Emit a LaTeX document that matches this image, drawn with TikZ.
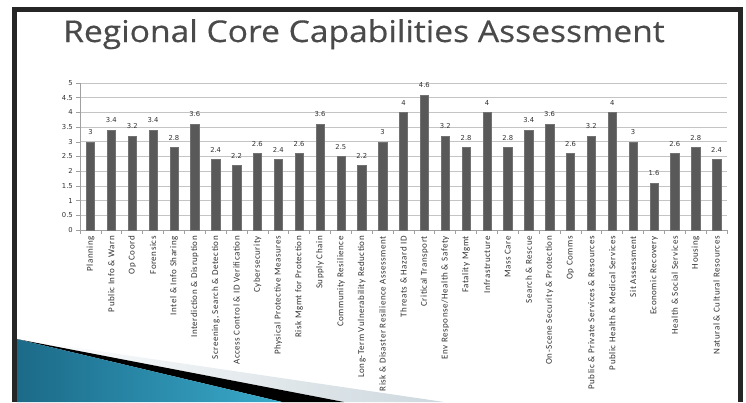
\documentclass[tikz,border=0pt]{standalone}
\usepackage{fontspec}
\setmainfont{Open Sans}
\newfontfamily\titlefont{Open Sans}[FakeStretch=1.12, FakeBold=0.4]
\newfontfamily\lblfont{Carlito}[LetterSpace=6]
\newfontfamily\numfont{DejaVu Sans}
\usetikzlibrary{positioning}
\definecolor{bargray}{HTML}{595959}
\definecolor{gridgray}{HTML}{C4C4C4}
\definecolor{axisgray}{HTML}{A0A0A0}
\definecolor{framegray}{HTML}{262626}
\definecolor{titlegray}{HTML}{4A4A4A}
\definecolor{tealdark}{HTML}{1B6A88}
\definecolor{teallight}{HTML}{3AAACB}
\definecolor{silver}{HTML}{CDD8DE}

\begin{document}
\begin{tikzpicture}[x=1pt, y=-1pt,
        bar/.style ={fill=bargray, draw=bargray!85!white, line width=0.4pt},
        gridline/.style ={gridgray, line width=0.8pt},
        axisline/.style ={axisgray, line width=0.6pt},
        value/.style ={font=\numfont\fontsize{6.8}{7}\selectfont, text=black!80, inner sep=0pt},
        category/.style ={font=\lblfont\fontsize{9}{10}\selectfont, text=black!80, rotate=90, anchor=east, inner sep=0pt},
        ticklabel/.style ={font=\numfont\fontsize{6.8}{7}\selectfont, text=black!80, anchor=east, inner sep=0pt}]

    \useasboundingbox (0,0) rectangle (746,402);
    \fill[white] (0,0) rectangle (746,402);

    %slide decoration in the corner
    \coordinate (wedge) at (16.5,339);
    \coordinate (w1) at (282,402);
    \coordinate (w2) at (344,402);
    \coordinate (w3) at (444,402);
    \coordinate (w0) at (16.5,402);
    \shade[left color=white, right color=silver] (wedge) -- (w3) -- (w2) -- cycle;
    \fill[black] (wedge) -- (w2) -- (w1) -- cycle;
    \shade[left color=tealdark, right color=teallight] (wedge) -- (w1) -- (w0) -- cycle;

    \draw[framegray, line width=5pt] (14,402) -- (14,9) -- (740,9) -- (740,402);

    \node[anchor=base west, font=\titlefont\fontsize{30}{34}\selectfont, text=titlegray, inner sep=0pt] (title) at (63,42) {Regional Core Capabilities Assessment};

    \begin{scope}[shift={(80,230)}, x=20.87pt, y=29.4pt]
        \foreach \t in {0,0.5,1,1.5,2,2.5,3,3.5,4,4.5,5} {
            \draw[gridline] (0,\t) -- (31,\t);
            \draw[axisline] (-4pt,\t) -- (0,\t);
            \node[ticklabel] (t\t) at ([xshift=-7pt]0,\t) {\t};
        }
        \draw[axisline] (0,0) -- (0,5);
        \draw[axisline] (0,0) -- (31,0);
        \foreach \k in {0,...,31}
            \draw[axisline] (\k,0) -- ([yshift=-4pt]\k,0);

        \foreach \v/\name [count=\i] in {3/Planning, 3.4/Public Info \& Warn, 3.2/Op Coord, 3.4/Forensics,
                2.8/Intel \& Info Sharing, 3.6/Interdiction \& Disruption, 2.4/{Screening, Search \& Detection},
                2.2/Access Control \& ID Verification, 2.6/Cybersecurity, 2.4/Physical Protective Measures,
                2.6/Risk Mgmt for Protection, 3.6/Supply Chain, 2.5/Community Resilience,
                2.2/Long-Term Vulnerability Reduction, 3/Risk \& Disaster Resilience Assessment,
                4/Threats \& Hazard ID, 4.6/Critical Transport, 3.2/{Env Response/Health \& Safety},
                2.8/Fatality Mgmt, 4/Infrastructure, 2.8/Mass Care, 3.4/Search \& Rescue,
                3.6/On-Scene Security \& Protection, 2.6/Op Comms, 3.2/Public \& Private Services \& Resources,
                4/Public Health \& Medical Services, 3/Sit Assessment, 1.6/Economic Recovery,
                2.6/Health \& Social Services, 2.8/Housing, 2.4/Natural \& Cultural Resources} {
            \filldraw[bar] (\i-0.7,0) rectangle (\i-0.3,\v);
            \node[value, above=7pt] (v\i) at (\i-0.5,\v) {\v};
            \node[category] (c\i) at ([yshift=-6pt]\i-0.5,0) {\name};
        }
    \end{scope}
\end{tikzpicture}
\end{document}
